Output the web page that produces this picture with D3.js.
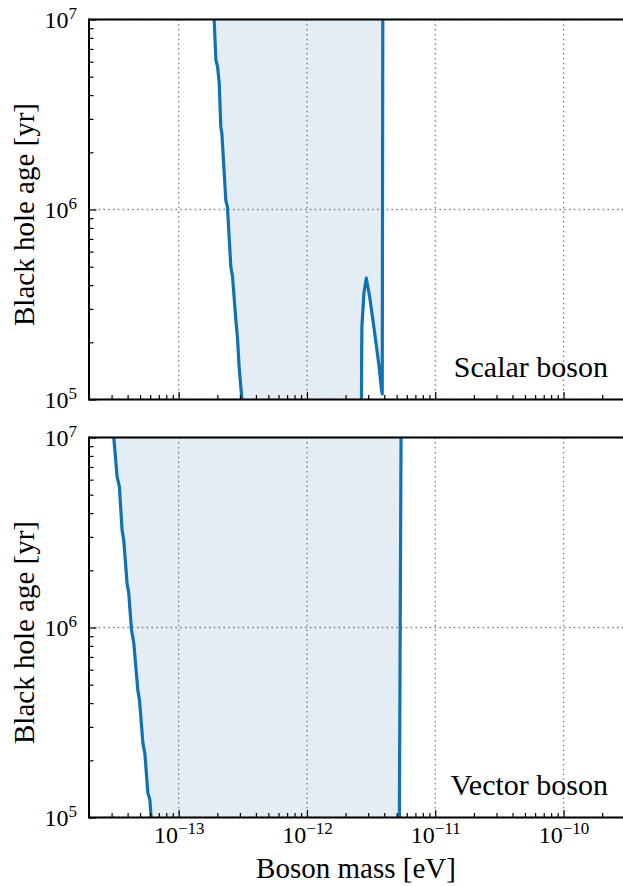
<!DOCTYPE html>
<html><head><meta charset="utf-8">
<script src="https://cdn.jsdelivr.net/npm/d3@7"></script>
<style>body{margin:0;background:#fff} svg{display:block}</style>
</head><body><svg id="c" width="623" height="886"></svg>
<script>
// ---- data ----
const xDomain = [2e-14, 3e-10];
const yDomain = [1e5, 1e7];
const xMajorTicks = [1e-13, 1e-12, 1e-11, 1e-10];
const xMajorExp = ["\u221213", "\u221212", "\u221211", "\u221210"];
const yMajorTicks = [1e5, 1e6, 1e7];
const yMajorExp = ["5", "6", "7"];
const panelNames = ["Scalar boson", "Vector boson"];
const xLabel = "Boson mass [eV]";
const yLabel = "Black hole age [yr]";

// Scalar boson: left boundary, top -> bottom
const scalarLeftMass = [1.89e-13, 1.95e-13, 2.01e-13, 2.07e-13, 2.13e-13, 2.17e-13, 2.33e-13, 2.40e-13, 2.55e-13, 2.63e-13, 2.79e-13, 2.87e-13, 2.96e-13, 3.11e-13];
const scalarLeftAge  = [1e7, 6.12e6, 5.65e6, 4.63e6, 2.72e6, 2.53e6, 1.12e6, 1.03e6, 4.98e5, 4.41e5, 2.62e5, 2.13e5, 1.48e5, 1e5];
// Scalar boson: right boundary, top -> bottom (with the small bump)
const scalarRightMass = [3.90e-12, 3.86e-12, 3.81e-12, 3.65e-12, 3.37e-12, 3.08e-12, 2.90e-12, 2.78e-12, 2.68e-12, 2.67e-12, 2.66e-12];
const scalarRightAge  = [1e7, 1.07e5, 1.12e5, 1.49e5, 2.24e5, 3.47e5, 4.35e5, 3.64e5, 2.42e5, 1.82e5, 1e5];
// Vector boson
const vectorLeftMass = [3.12e-14, 3.31e-14, 3.45e-14, 3.62e-14, 3.73e-14, 3.96e-14, 4.08e-14, 4.29e-14, 4.47e-14, 4.80e-14, 4.95e-14, 5.26e-14, 5.45e-14, 5.75e-14, 5.96e-14, 6.10e-14];
const vectorLeftAge  = [1e7, 6.22e6, 5.51e6, 3.26e6, 2.89e6, 1.71e6, 1.52e6, 9.7e5, 8.28e5, 4.69e5, 4.15e5, 2.47e5, 2.18e5, 1.35e5, 1.24e5, 1e5];
const vectorRightMass = [5.41e-12, 5.25e-12];
const vectorRightAge  = [1e7, 1e5];

// ---- style / layout ----
const W = 623, H = 886;
const left = 89, right = 89 + 128.3 * Math.log10(xDomain[1] / xDomain[0]);
const panelH = 380;
const panelTops = [19.5, 437.5];
const blue = "#0f72b4", fillC = "#e4edf4";
const serif = "'Liberation Serif','Times New Roman',serif";

const svg = d3.select("#c");
svg.append("rect").attr("width", W).attr("height", H).attr("fill", "#fff");

const x = d3.scaleLog().domain(xDomain).range([left, right]);

const panels = [
  {lm: scalarLeftMass, la: scalarLeftAge, rm: scalarRightMass, ra: scalarRightAge},
  {lm: vectorLeftMass, la: vectorLeftAge, rm: vectorRightMass, ra: vectorRightAge}
];

function supText(t, exp) {
  t.text(null);
  t.append("tspan").style("font-size", "24px").text("10");
  t.append("tspan").attr("dy", -9).style("font-size", "17px").text(exp);
}

panels.forEach((p, i) => {
  const top = panelTops[i], bot = top + panelH;
  const y = d3.scaleLog().domain(yDomain).range([bot, top]);
  const g = svg.append("g");
  const clipId = "clip" + i;
  svg.append("clipPath").attr("id", clipId).append("rect")
    .attr("x", left).attr("y", top).attr("width", right - left).attr("height", panelH);

  const leftPts = p.lm.map((m, k) => [m, p.la[k]]);
  const rightPts = p.rm.map((m, k) => [m, p.ra[k]]);
  const line = d3.line().x(d => x(d[0])).y(d => y(d[1]));

  // fill
  const poly = leftPts.concat(rightPts.slice().reverse());
  g.append("path").attr("d", line(poly) + "Z").attr("fill", fillC)
    .attr("clip-path", `url(#${clipId})`);

  // grid
  const grid = g.append("g").attr("stroke", "#7a7a7a").attr("stroke-width", 1.3)
    .attr("stroke-dasharray", "1.5,3.3").attr("fill", "none");
  xMajorTicks.forEach(v => grid.append("line").attr("x1", x(v)).attr("x2", x(v)).attr("y1", top).attr("y2", bot));
  yMajorTicks.forEach(v => grid.append("line").attr("x1", left).attr("x2", right).attr("y1", y(v)).attr("y2", y(v)));

  // boundary lines
  [leftPts, rightPts].forEach(pts => {
    g.append("path").attr("d", line(pts)).attr("fill", "none").attr("stroke", blue)
      .attr("stroke-width", 3.2).attr("stroke-linejoin", "round")
      .attr("clip-path", `url(#${clipId})`);
  });

  // axes
  const xMinor = x.ticks().filter(v => !xMajorTicks.some(M => Math.abs(v / M - 1) < 1e-6));
  const yMinor = y.ticks().filter(v => !yMajorTicks.some(M => Math.abs(v / M - 1) < 1e-6));

  const ax1 = g.append("g").attr("transform", `translate(0,${bot})`)
    .call(d3.axisBottom(x).tickValues(xMinor).tickSize(-4.5).tickSizeOuter(0).tickFormat(""));
  const ax2 = g.append("g").attr("transform", `translate(0,${bot})`)
    .call(d3.axisBottom(x).tickValues(xMajorTicks).tickSize(-7.5).tickSizeOuter(0)
      .tickFormat((d, k) => i === 1 ? xMajorExp[k] : ""));
  const ay1 = g.append("g").attr("transform", `translate(${left},0)`)
    .call(d3.axisLeft(y).tickValues(yMinor).tickSize(-4.5).tickSizeOuter(0).tickFormat(""));
  const ay2 = g.append("g").attr("transform", `translate(${left},0)`)
    .call(d3.axisLeft(y).tickValues(yMajorTicks).tickSize(-7.5).tickSizeOuter(0)
      .tickFormat((d, k) => yMajorExp[k]));
  [ax1, ax2, ay1, ay2].forEach(a => {
    a.select(".domain").remove();
    a.selectAll(".tick line").attr("stroke", "#000").attr("stroke-width", 1.2);
  });
  if (i === 1) {
    ax2.selectAll(".tick text").each(function() {
      const t = d3.select(this); const e = t.text();
      t.attr("y", 25).attr("dy", null).style("font-family", serif)
        .attr("fill", "#000").attr("text-anchor", "middle");
      supText(t, e);
    });
  }
  ay2.selectAll(".tick text").each(function() {
    const t = d3.select(this); const e = t.text();
    t.attr("x", -12).attr("dy", 8).style("font-family", serif)
      .attr("fill", "#000").attr("text-anchor", "end");
    supText(t, e);
  });

  // spines
  const sp = g.append("g").attr("stroke", "#000").attr("stroke-width", 2).attr("fill", "none");
  sp.append("line").attr("x1", left).attr("x2", right).attr("y1", top).attr("y2", top);
  sp.append("line").attr("x1", left).attr("x2", right).attr("y1", bot).attr("y2", bot);
  sp.append("line").attr("x1", left).attr("x2", left).attr("y1", top - 1).attr("y2", bot + 1);

  // annotations
  g.append("text").attr("x", 608).attr("y", bot - 22.8).attr("text-anchor", "end")
    .style("font-family", serif).style("font-size", "30px").attr("fill", "#000").text(panelNames[i]);
  g.append("text").attr("transform", `translate(34,${(top + bot) / 2 + 5}) rotate(-90)`)
    .attr("text-anchor", "middle").style("font-family", serif).style("font-size", "29px")
    .attr("fill", "#000").text(yLabel);
});

svg.append("text").attr("x", (left + 623) / 2).attr("y", 878).attr("text-anchor", "middle")
  .style("font-family", serif).style("font-size", "29px").attr("fill", "#000").text(xLabel);
</script>
</body></html>
